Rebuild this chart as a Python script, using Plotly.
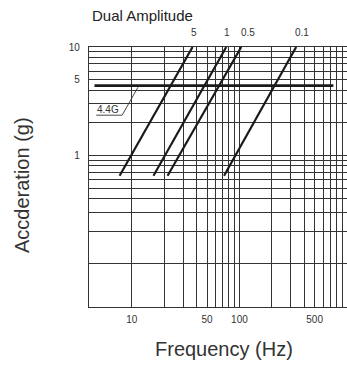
import numpy as np
import plotly.graph_objects as go

# ---- data ----
amp_labels = ["5", "1", "0.5", "0.1"]          # dual amplitude (mm)
f_low = [7.7, 15.9, 21.5, 72.0]                 # Hz at lower end of each line
f_high = [36.7, 75.5, 104.0, 337.0]             # Hz at upper end of each line
a_low = [0.65, 0.65, 0.65, 0.65]                # g at lower end
a_high = [10.0, 10.0, 10.0, 10.0]               # g at upper end
label_f = [37.8, 77.4, 119.0, 385.0]            # Hz where the amplitude labels sit

limit_g = 4.4
limit_f = [4.5, 747.0]

x_grid = [10, 20, 30, 40, 50, 60, 70, 80, 90, 100,
          200, 300, 400, 500, 600, 700, 800, 900, 1000]
x_labels = {10: "10", 50: "50", 100: "100", 500: "500"}
y_grid = [0.1, 0.2, 0.3, 0.4, 0.5, 0.6, 0.7, 0.8, 0.9,
          1, 2, 3, 4, 5, 6, 7, 8, 9, 10]
y_labels = {1: "1", 5: "5", 10: "10"}

FONT = "Liberation Sans, Arial, sans-serif"
TXT = "#333333"
GRID = "#333333"

fig = go.Figure()

for lab, f0, f1, a0, a1 in zip(amp_labels, f_low, f_high, a_low, a_high):
    fig.add_trace(go.Scatter(x=[f0, f1], y=[a0, a1], mode="lines",
                             line=dict(color="#1a1a1a", width=2.2),
                             showlegend=False, hoverinfo="skip", name=lab))

fig.add_trace(go.Scatter(x=limit_f, y=[limit_g, limit_g], mode="lines",
                         line=dict(color="#1a1a1a", width=2.6),
                         showlegend=False, hoverinfo="skip"))

# 4.4G label with underline and leader
fig.add_trace(go.Scatter(x=[4.67, 8.13, 11.4], y=[2.35, 2.35, 4.25], mode="lines",
                         line=dict(color="#333333", width=0.9),
                         showlegend=False, hoverinfo="skip"))

W, H = 347, 370
L, R, T, B = 89, 0, 47, 63
pw, ph = W - L - R, H - T - B
def px2paper(px, py):
    return (px - L) / pw, (H - B - py) / ph

annotations = [
    dict(x=np.log10(6.05), y=np.log10(2.68), xref="x", yref="y", text="4.4G",
         showarrow=False, font=dict(family=FONT, size=10, color=TXT)),
]
x, y = px2paper(90, 15)
annotations.append(dict(x=x, y=y, xref="paper", yref="paper", text="Dual Amplitude",
                        showarrow=False, xanchor="left", yanchor="middle",
                        font=dict(family=FONT, size=15, color="#222")))
x, y = px2paper(224, 349)
annotations.append(dict(x=x, y=y, xref="paper", yref="paper", text="Frequency (Hz)",
                        showarrow=False, xanchor="center", yanchor="middle",
                        font=dict(family=FONT, size=20, color="#333")))
x, y = px2paper(22, 185)
annotations.append(dict(x=x, y=y, xref="paper", yref="paper", text="Accderation (g)",
                        showarrow=False, textangle=-90, xanchor="center", yanchor="middle",
                        font=dict(family=FONT, size=20, color="#333")))
_, ylab = px2paper(0, 33)
for lab, lf in zip(amp_labels, label_f):
    annotations.append(dict(x=np.log10(lf), y=ylab, xref="x", yref="paper",
                            xanchor="center", yanchor="middle",
                            text=lab, showarrow=False,
                            font=dict(family=FONT, size=10, color=TXT)))

fig.update_layout(
    width=W, height=H,
    margin=dict(l=L, r=R, t=T, b=B),
    paper_bgcolor="white", plot_bgcolor="white",
    annotations=annotations,
    xaxis=dict(type="log", range=[np.log10(4), 3],
               tickmode="array", tickvals=x_grid,
               ticktext=[x_labels.get(v, "") for v in x_grid],
               showgrid=True, gridcolor=GRID, gridwidth=1,
               showline=True, linecolor="#333", linewidth=1.2, mirror=True,
               ticks="", ticklabelstandoff=3,
               tickfont=dict(family=FONT, size=10, color=TXT), zeroline=False),
    yaxis=dict(type="log", range=[np.log10(0.04), 1],
               tickmode="array", tickvals=y_grid,
               ticktext=[y_labels.get(v, "") for v in y_grid],
               showgrid=True, gridcolor=GRID, gridwidth=1,
               showline=True, linecolor="#333", linewidth=1.2,
               ticks="", ticklabelstandoff=6,
               tickfont=dict(family=FONT, size=10, color=TXT), zeroline=False),
)

fig.write_html("out.html", config={"displayModeBar": False},
               post_script="document.body.style.margin='0';document.body.style.overflow='hidden';")
